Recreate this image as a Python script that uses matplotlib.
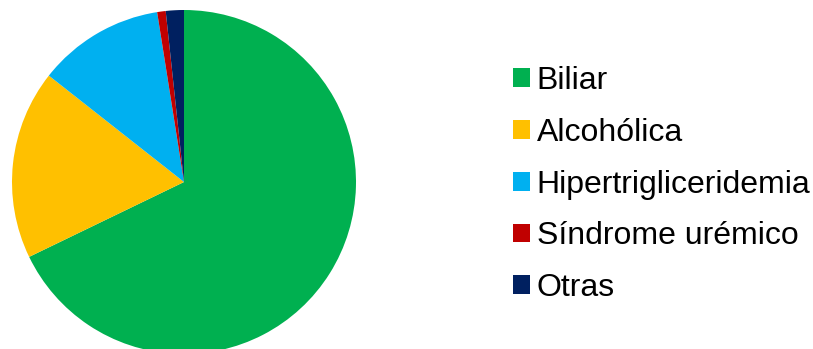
import matplotlib
matplotlib.use("Agg")
import matplotlib.pyplot as plt

plt.rcParams['font.family'] = ['Liberation Sans', 'DejaVu Sans']

labels = ["Biliar", "Alcohólica", "Hipertrigliceridemia", "Síndrome urémico", "Otras"]
values = [67.9, 17.8, 11.9, 0.8, 1.7]
colors = ["#00B050", "#FFC000", "#00B0F0", "#C00000", "#002060"]

W, H = 813, 349
fig = plt.figure(figsize=(W / 100, H / 100), dpi=100)

# pie axes: centre (184, 182) px from top-left, radius 172 px
cx, cy, r = 184, 182, 172
ax = fig.add_axes([(cx - r) / W, (H - cy - r) / H, 2 * r / W, 2 * r / H])
wedges, _ = ax.pie(values, colors=colors, startangle=90, counterclock=False,
                   radius=1, wedgeprops=dict(linewidth=0))
ax.set_xlim(-1, 1)
ax.set_ylim(-1, 1)
ax.set_aspect('equal')
ax.axis('off')

fig.legend(wedges, labels, loc='center left', bbox_to_anchor=(513 / W, 0.471),
           frameon=False, fontsize=23, handlelength=0.53, handleheight=0.53,
           handletextpad=0.21, labelspacing=0.68, borderpad=0, borderaxespad=0)

fig.savefig("out.png", dpi=100)
